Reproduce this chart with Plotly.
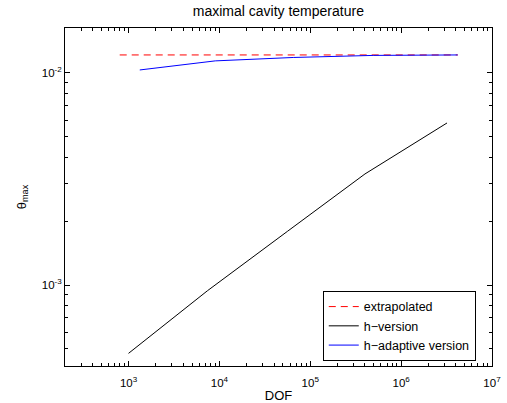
import plotly.graph_objects as go

# Data
extrap_dof = [800, 4.2e6]
extrap_theta = [0.01216, 0.01216]

h_dof = [1.0e3, 7.4e3, 5.6e4, 4.0e5, 3.2e6]
h_theta = [4.76e-4, 9.4e-4, 1.79e-3, 3.34e-3, 5.81e-3]

hadapt_dof = [1330, 9000, 6.5e4, 5.0e5, 4.2e6]
hadapt_theta = [0.01033, 0.0114, 0.01183, 0.0121, 0.01216]

x_tick_vals = [1e3, 1e4, 1e5, 1e6, 1e7]
x_tick_text = ["10<sup>3</sup>", "10<sup>4</sup>", "10<sup>5</sup>", "10<sup>6</sup>", "10<sup>7</sup>"]
y_tick_vals = [1e-3, 1e-2]
y_tick_text = ["10<sup>-3</sup>", "10<sup>-2</sup>"]

xminor = [m * 10 ** k for k in range(2, 7) for m in range(2, 10)]
yminor = [m * 10 ** k for k in range(-4, -1) for m in range(2, 10)]

FONT = "Liberation Sans, Arial, Helvetica, sans-serif"

fig = go.Figure()
fig.add_trace(go.Scatter(x=extrap_dof, y=extrap_theta, mode="lines", name="extrapolated",
                         line=dict(color="red", width=1, dash="7px,5px")))
fig.add_trace(go.Scatter(x=h_dof, y=h_theta, mode="lines", name="h\u2212version",
                         line=dict(color="black", width=1)))
fig.add_trace(go.Scatter(x=hadapt_dof, y=hadapt_theta, mode="lines", name="h\u2212adaptive version",
                         line=dict(color="blue", width=1)))

axis_common = dict(
    showline=True, linecolor="black", linewidth=1, mirror="ticks",
    ticks="inside", ticklen=5, tickcolor="black", tickwidth=1,
    showgrid=False, zeroline=False, automargin=False,
    tickfont=dict(family=FONT, size=11.5, color="black"),
)

fig.update_xaxes(type="log", range=[2.301, 7], tickvals=x_tick_vals, ticktext=x_tick_text,
                 ticklabelstandoff=6,
                 minor=dict(tickvals=xminor, ticks="inside", ticklen=3, tickcolor="black", showgrid=False),
                 title=dict(text="DOF", font=dict(family=FONT, size=13, color="black"), standoff=6),
                 **axis_common)
fig.update_yaxes(type="log", range=[-3.382, -1.788], tickvals=y_tick_vals, ticktext=y_tick_text,
                 minor=dict(tickvals=yminor, ticks="inside", ticklen=3, tickcolor="black", showgrid=False),
                 title=dict(text="\u03b8<sub>max</sub>", font=dict(family=FONT, size=13, color="black"), standoff=12),
                 **axis_common)

fig.update_layout(
    width=507, height=403,
    margin=dict(l=65, r=15, t=28, b=37, autoexpand=False),
    paper_bgcolor="white", plot_bgcolor="white",
    title=dict(text="maximal cavity temperature", x=0.549, xanchor="center", y=0.985, yanchor="top",
               font=dict(family=FONT, size=14, color="black")),
    showlegend=True,
    legend=dict(x=0.962, y=0.222, xanchor="right", yanchor="top",
                bordercolor="black", borderwidth=1, bgcolor="white",
                font=dict(family=FONT, size=12.5, color="black"),
                itemwidth=30, tracegroupgap=0),
)

fig.write_html("out.html")
